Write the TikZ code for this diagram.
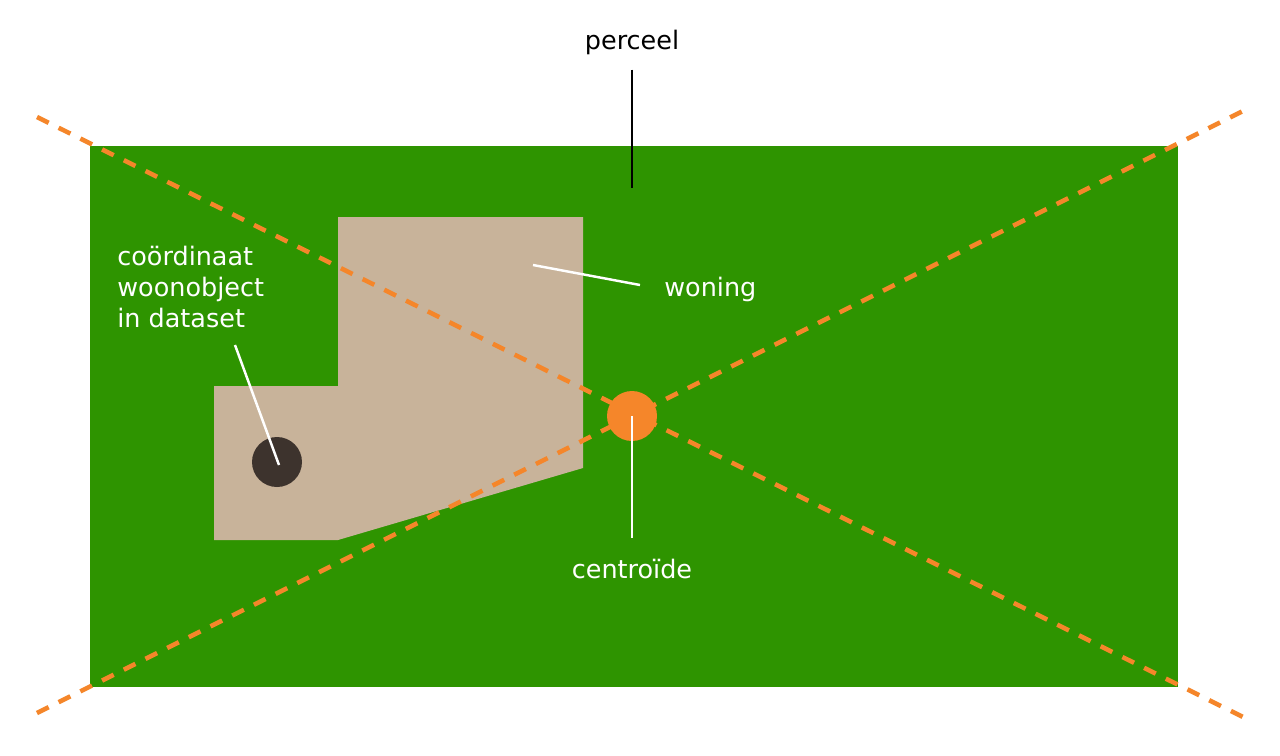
\documentclass[tikz,border=0pt]{standalone}
\usepackage{fontspec}
\setmainfont{DejaVu Sans}
\usepackage{xcolor}
\usetikzlibrary{positioning}
\definecolor{parcelgreen}{RGB}{46,148,0}
\definecolor{housebeige}{RGB}{200,179,154}
\definecolor{centorange}{RGB}{245,134,42}
\definecolor{pointbrown}{RGB}{61,51,45}
\tikzset{
  lbl/.style={font=\fontsize{14.5}{17.6}\selectfont,inner sep=0pt,text=white},
  lbldark/.style={lbl,text=black},
  leader/.style={draw=white,line width=1.4pt},
  leaderdark/.style={draw=black,line width=1.1pt},
  diag/.style={draw=centorange,line width=2.6pt,dash pattern=on 7.4pt off 6.4pt},
  dot/.style={circle,inner sep=0pt,minimum size=1cm},
}

\begin{document}
\begin{tikzpicture}[x=0.02cm,y=-0.02cm]
  \useasboundingbox[fill=white] (0,0) rectangle (1280,755);
  % perceel en woning
  \fill[parcelgreen] (90,146) rectangle (1178,687);
  \fill[housebeige] (338,217) -- (583,217) -- (583,468) -- (338,540) -- (214,540)
    -- (214,386) -- (338,386) -- cycle;
  % diagonalen
  \coordinate (nw) at (37,117);
  \coordinate (se) at (1247,719);
  \coordinate (sw) at (37,713);
  \coordinate (ne) at (1245,110);
  \draw[diag] (nw) -- (se);
  \draw[diag] (sw) -- (ne);
  \node[dot,fill=centorange] (centroid) at (632,416) {};
  \node[dot,fill=pointbrown] (woonpunt) at (277,462) {};
  % labels
  \node[lbldark,anchor=base] (perceel) at (632,49) {perceel};
  \node[lbl,anchor=base west] (woning) at (664,296) {woning};
  \node[lbl,anchor=base] (centroide) at (632,578) {centroïde};
  \node[lbl,anchor=base west,align=left] (coordlbl) at (117,327) {coördinaat\\woonobject\\in dataset};
  \coordinate (perceeltip) at (632,188);
  \coordinate (woningtip) at (533,265);
  \coordinate (woningend) at (640,285);
  \coordinate (coordend) at (235,345);
  \coordinate (centroidend) at (632,538);
  \draw[leaderdark] ([yshift=-0.3cm]perceel.south) -- (perceeltip);
  \draw[leader] (woningend) -- (woningtip);
  \draw[leader] (centroid.center) -- (centroidend);
  \draw[leader] (coordend) -- ([shift={(2,3)}]woonpunt.center);
\end{tikzpicture}
\end{document}
